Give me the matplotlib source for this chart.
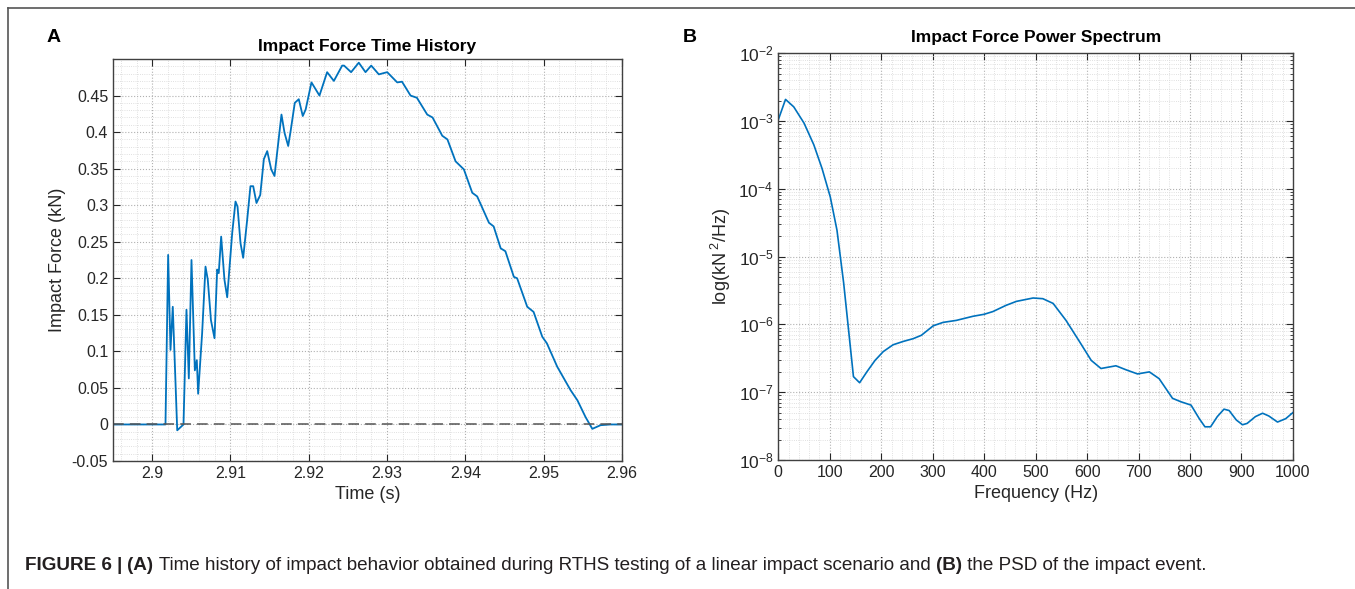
import numpy as np
import matplotlib
matplotlib.use("Agg")
import matplotlib.pyplot as plt
from matplotlib.lines import Line2D
from matplotlib.text import Annotation
from matplotlib.ticker import AutoMinorLocator, LogLocator, NullFormatter

plt.rcParams['font.family'] = ['Liberation Sans', 'DejaVu Sans']
plt.rcParams['mathtext.fontset'] = 'custom'
plt.rcParams['mathtext.rm'] = 'Liberation Sans'
plt.rcParams['mathtext.it'] = 'Liberation Sans:italic'
plt.rcParams['mathtext.bf'] = 'Liberation Sans:bold'

# panel A: impact force time history (s, kN)
time_s = [2.895, 2.8975, 2.9000, 2.9017, 2.90204, 2.90234, 2.90263, 2.9032, 2.9040,
          2.90438, 2.90468, 2.90502, 2.90545, 2.9057, 2.90587, 2.90638, 2.90681, 2.9071,
          2.90744, 2.9075, 2.90796, 2.9083, 2.9085, 2.90881, 2.90923, 2.90958, 2.91022,
          2.91064, 2.9109, 2.91128, 2.91162, 2.91213, 2.91255, 2.9129, 2.91332, 2.9138,
          2.91426, 2.91469, 2.9152, 2.91562, 2.9160, 2.91651, 2.9169, 2.91737, 2.9177,
          2.91821, 2.91872, 2.91923, 2.9196, 2.92034, 2.92136, 2.92234, 2.9232, 2.92426,
          2.9245, 2.9254, 2.92638, 2.92724, 2.92797, 2.92894, 2.93001, 2.93129, 2.9319,
          2.93299, 2.9338, 2.93512, 2.9358, 2.93704, 2.9377, 2.93874, 2.9398, 2.94087,
          2.9415, 2.9430, 2.9436, 2.9445, 2.9451, 2.94618, 2.9466, 2.94789, 2.9487,
          2.94981, 2.9504, 2.95172, 2.95342, 2.9543, 2.95534, 2.9562, 2.95725, 2.9585, 2.9600]
force_kn = [0.0, 0.0, 0.0, 0.0, 0.232, 0.102, 0.161, -0.008, 0.0,
            0.157, 0.063, 0.225, 0.074, 0.088, 0.042, 0.125, 0.216, 0.198,
            0.152, 0.143, 0.118, 0.212, 0.207, 0.257, 0.198, 0.174, 0.262,
            0.305, 0.298, 0.248, 0.228, 0.280, 0.326, 0.326, 0.303, 0.314,
            0.363, 0.374, 0.349, 0.340, 0.376, 0.424, 0.399, 0.381, 0.403,
            0.440, 0.445, 0.422, 0.431, 0.468, 0.450, 0.482, 0.470, 0.491,
            0.491, 0.482, 0.495, 0.482, 0.491, 0.479, 0.482, 0.468, 0.469,
            0.450, 0.447, 0.424, 0.420, 0.395, 0.390, 0.360, 0.349, 0.317,
            0.312, 0.276, 0.271, 0.241, 0.237, 0.202, 0.200, 0.161, 0.154,
            0.120, 0.111, 0.079, 0.047, 0.033, 0.010, -0.006, -0.001, 0.0, 0.0]

# panel B: power spectrum (Hz, log10 of kN^2/Hz)
freq_hz = [0, 14, 30, 50, 69, 85, 101, 114, 127, 136.5, 146, 158, 172, 188, 204, 223,
           243, 262, 278, 301, 320, 346, 378, 400, 417, 442, 462.5, 495, 514, 534, 559,
           585, 608, 627, 656, 676, 698, 721, 740, 766, 782, 802, 818, 829, 840, 853,
           866, 876, 890, 902, 911, 927, 941, 953, 970, 986, 1000]
log_psd = [-2.98, -2.68, -2.79, -3.03, -3.35, -3.70, -4.12, -4.61, -5.39, -6.08, -6.77,
           -6.86, -6.70, -6.53, -6.40, -6.30, -6.25, -6.21, -6.16, -6.02, -5.97, -5.94,
           -5.88, -5.85, -5.81, -5.72, -5.66, -5.61, -5.62, -5.69, -5.94, -6.25, -6.53,
           -6.65, -6.61, -6.67, -6.73, -6.70, -6.80, -7.09, -7.14, -7.19, -7.39, -7.51,
           -7.51, -7.36, -7.25, -7.27, -7.41, -7.48, -7.46, -7.36, -7.31, -7.35, -7.44,
           -7.39, -7.30]
psd = 10.0 ** np.array(log_psd)

line_col = '#0072BD'
edge_col = '#404040'
tick_fs = 11.5
label_fs = 13
title_fs = 12.5

fig = plt.figure(figsize=(13.55, 5.89), dpi=100)

def style_axes(ax):
    for s in ax.spines.values():
        s.set_color(edge_col)
        s.set_linewidth(1.0)
    ax.tick_params(which='both', direction='in', top=True, right=True,
                   colors='#262626', labelsize=tick_fs, labelcolor='#262626')
    ax.tick_params(which='major', length=5)
    ax.tick_params(which='minor', length=2.5)
    ax.grid(True, which='major', linestyle=':', color='#b0b0b0', linewidth=0.8)
    ax.grid(True, which='minor', linestyle=':', color='#d6d6d6', linewidth=0.6)
    ax.set_axisbelow(True)

axA = fig.add_axes([0.0834, 0.2173, 0.3757, 0.6825])
axA.plot(time_s, force_kn, color=line_col, lw=1.3)
axA.axhline(0, color='#555555', lw=1.1, ls=(0, (7, 4)))
axA.set_xlim(2.895, 2.96)
axA.set_ylim(-0.05, 0.5)
axA.set_xticks([2.90, 2.91, 2.92, 2.93, 2.94, 2.95, 2.96])
axA.set_xticklabels(['2.9', '2.91', '2.92', '2.93', '2.94', '2.95', '2.96'])
axA.set_yticks([-0.05, 0, 0.05, 0.1, 0.15, 0.2, 0.25, 0.3, 0.35, 0.4, 0.45])
axA.set_yticklabels(['-0.05', '0', '0.05', '0.1', '0.15', '0.2', '0.25', '0.3', '0.35', '0.4', '0.45'])
axA.xaxis.set_minor_locator(AutoMinorLocator(5))
axA.yaxis.set_minor_locator(AutoMinorLocator(5))
style_axes(axA)
axA.tick_params(which='minor', length=0)
axA.set_title('Impact Force Time History', fontsize=title_fs, fontweight='bold', pad=6)
axA.set_xlabel('Time (s)', fontsize=label_fs, color='#262626')
axA.set_ylabel('Impact Force (kN)', fontsize=label_fs, color='#262626')

axB = fig.add_axes([0.5744, 0.219, 0.3798, 0.6905])
axB.plot(freq_hz, psd, color=line_col, lw=1.2)
axB.set_yscale('log')
axB.set_xlim(0, 1000)
axB.set_ylim(1e-8, 1e-2)
axB.set_xticks(np.arange(0, 1001, 100))
axB.xaxis.set_minor_locator(AutoMinorLocator(5))
axB.yaxis.set_major_locator(LogLocator(base=10, numticks=10))
axB.yaxis.set_minor_locator(LogLocator(base=10, subs=np.arange(2, 10), numticks=20))
axB.yaxis.set_minor_formatter(NullFormatter())
style_axes(axB)
axB.tick_params(axis='x', which='minor', length=0)
axB.tick_params(axis='y', which='major', labelsize=12.5)
axB.set_title('Impact Force Power Spectrum', fontsize=title_fs, fontweight='bold', pad=8)
axB.set_xlabel('Frequency (Hz)', fontsize=label_fs, color='#262626')
axB.set_ylabel(r'log(kN$^{\ 2}$/Hz)', fontsize=label_fs, color='#262626')

# panel letters
fig.text(47 / 1355, 1 - 38 / 589, 'A', fontsize=14, fontweight='bold', va='center', ha='left')
fig.text(683 / 1355, 1 - 38 / 589, 'B', fontsize=14, fontweight='bold', va='center', ha='left')

# frame lines (top and left)
fig.add_artist(Line2D([8 / 1355, 1.0], [1 - 8 / 589, 1 - 8 / 589], color='#555555', lw=1.2))
fig.add_artist(Line2D([8 / 1355, 8 / 1355], [0.0, 1 - 8 / 589], color='#555555', lw=1.2))

# caption, pieces chained one after another
cap_fs = 13.6
parts = [('FIGURE 6 | ', 'bold'), ('(A)', 'bold'),
         (' Time history of impact behavior obtained during RTHS testing of a linear impact scenario and ', 'normal'),
         ('(B)', 'bold'), (' the PSD of the impact event.', 'normal')]
prev = fig.text(25 / 1355, 1 - 574 / 589, parts[0][0], fontsize=cap_fs, fontweight=parts[0][1],
                va='bottom', ha='left', color='#231f20')
for txt, wt in parts[1:]:
    prev = fig.add_artist(Annotation(txt, xy=(1, 0), xycoords=prev, fontsize=cap_fs,
                                     fontweight=wt, va='bottom', ha='left',
                                     color='#231f20', annotation_clip=False))

fig.savefig('out.png', dpi=100)
